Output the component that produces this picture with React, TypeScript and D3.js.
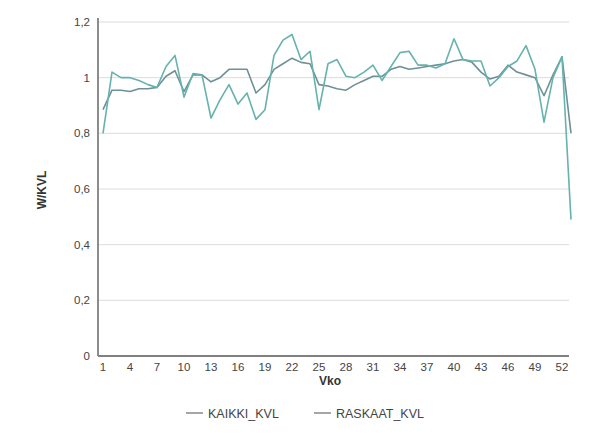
import React from "react";
import * as d3 from "d3";

const weeks = [1, 2, 3, 4, 5, 6, 7, 8, 9, 10, 11, 12, 13, 14, 15, 16, 17, 18, 19, 20, 21, 22, 23, 24, 25, 26, 27, 28, 29, 30, 31, 32, 33, 34, 35, 36, 37, 38, 39, 40, 41, 42, 43, 44, 45, 46, 47, 48, 49, 50, 51, 52, 53];
const xTickWeeks = [1, 4, 7, 10, 13, 16, 19, 22, 25, 28, 31, 34, 37, 40, 43, 46, 49, 52];
const yTicks = [0, 0.2, 0.4, 0.6, 0.8, 1, 1.2];
const yTickLabels = ["0", "0,2", "0,4", "0,6", "0,8", "1", "1,2"];

const kaikki = [0.885, 0.955, 0.955, 0.95, 0.96, 0.96, 0.965, 1.005, 1.025, 0.95, 1.01, 1.01, 0.985, 1.0, 1.03, 1.03, 1.03, 0.945, 0.975, 1.03, 1.05, 1.07, 1.055, 1.05, 0.975, 0.97, 0.96, 0.955, 0.975, 0.99, 1.005, 1.005, 1.03, 1.04, 1.03, 1.035, 1.04, 1.045, 1.05, 1.06, 1.065, 1.055, 1.02, 0.995, 1.005, 1.045, 1.02, 1.01, 1.0, 0.935, 1.01, 1.075, 0.8];
const raskaat = [0.8, 1.02, 1.0, 1.0, 0.99, 0.975, 0.965, 1.04, 1.08, 0.93, 1.015, 1.01, 0.855, 0.92, 0.975, 0.905, 0.945, 0.85, 0.885, 1.08, 1.135, 1.155, 1.065, 1.095, 0.885, 1.05, 1.065, 1.005, 1.0, 1.02, 1.045, 0.99, 1.04, 1.09, 1.095, 1.045, 1.045, 1.035, 1.05, 1.14, 1.065, 1.06, 1.06, 0.97, 1.0, 1.04, 1.06, 1.115, 1.03, 0.84, 1.0, 1.075, 0.49];

const seriesNames = ["KAIKKI_KVL", "RASKAAT_KVL"];
const seriesColors = ["#6d9197", "#66b2ae"];

export default function App() {
  const W = 592;
  const H = 445;
  const left = 98;
  const right = 569;
  const top = 22;
  const bottom = 356;

  const x = d3.scalePoint<number>().domain(weeks).range([103, 571]);
  const y = d3.scaleLinear().domain([0, 1.2]).range([bottom, top]);
  const line = d3
    .line<number>()
    .x((_, i) => x(weeks[i]) as number)
    .y((d) => y(d));

  const font = "'Liberation Sans', Arial, sans-serif";
  const series = [kaikki, raskaat];

  return (
    <svg
      width={W}
      height={H}
      style={{ position: "absolute", left: 0, top: 0, background: "#fff" }}
      fontFamily={font}
    >
      <rect x={0} y={0} width={W} height={H} fill="#fff" />
      {yTicks.map((t, i) =>
        t === 0 ? null : (
          <line key={"g" + i} x1={left} x2={right} y1={y(t)} y2={y(t)} stroke="#dcdcdc" strokeWidth={1} />
        )
      )}
      {yTicks.map((t, i) => (
        <text key={"yl" + i} x={90} y={y(t) + 4} textAnchor="end" fontSize={11.5} fill="#444">
          {yTickLabels[i]}
        </text>
      ))}
      {series.map((s, i) => (
        <path key={"s" + i} d={line(s) || ""} fill="none" stroke={seriesColors[i]} strokeWidth={1.6} strokeLinejoin="round" />
      ))}
      <line x1={left} x2={left} y1={top - 4} y2={bottom} stroke="#808080" strokeWidth={1.8} />
      <line x1={left} x2={right} y1={bottom} y2={bottom} stroke="#808080" strokeWidth={1.8} />
      {xTickWeeks.map((w) => (
        <text key={"xl" + w} x={x(w)} y={371} textAnchor="middle" fontSize={11.5} fill="#444">
          {w}
        </text>
      ))}
      <text x={330} y={385} textAnchor="middle" fontSize={12} fontWeight="bold" fill="#333">
        Vko
      </text>
      <text
        transform={`translate(46, 190) rotate(-90)`}
        textAnchor="middle"
        fontSize={12}
        fontWeight="bold"
        fill="#333"
      >
        W/KVL
      </text>
      {seriesNames.map((n, i) => {
        const lx = i === 0 ? 186 : 314;
        return (
          <g key={"lg" + i}>
            <line x1={lx} x2={lx + 17} y1={413} y2={413} stroke="#888" strokeWidth={1.5} />
            <text x={lx + 22} y={418} fontSize={12.5} fill="#444">
              {n}
            </text>
          </g>
        );
      })}
    </svg>
  );
}
